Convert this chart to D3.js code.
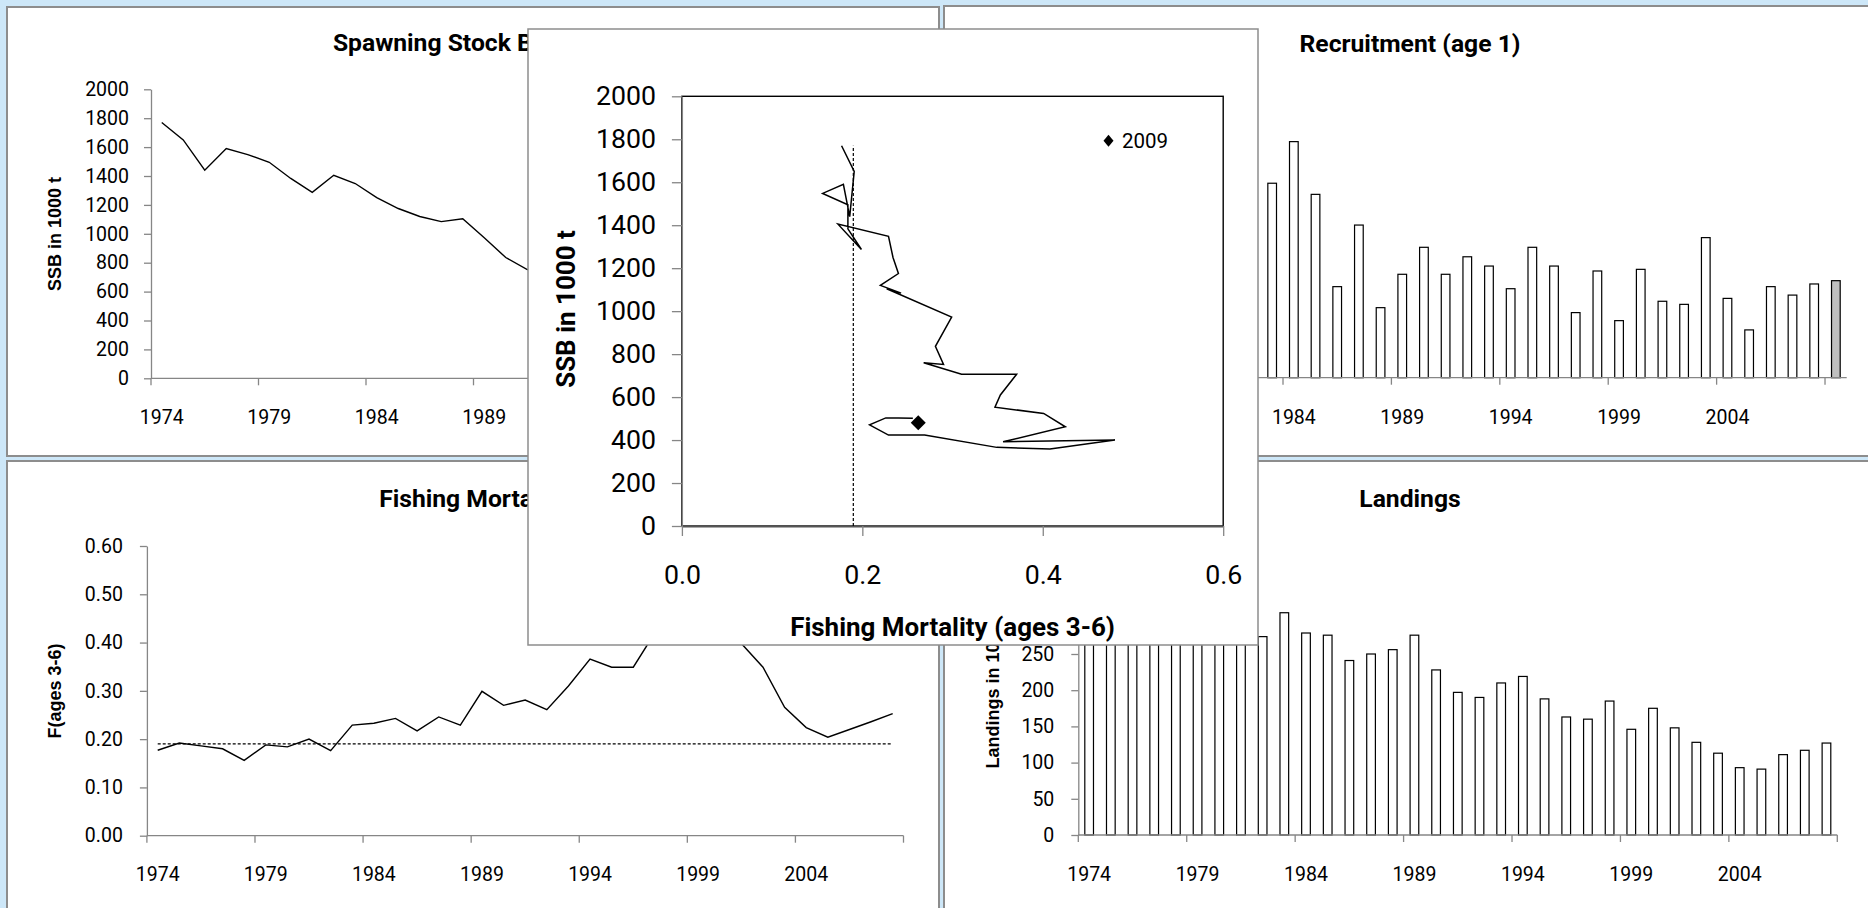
<!DOCTYPE html>
<html><head><meta charset="utf-8">
<script src="https://cdn.jsdelivr.net/npm/d3@7"></script>
<style>body{margin:0;background:#cde7f8;overflow:hidden}svg{display:block}</style>
</head><body>
<svg id="c" width="1868" height="908"></svg>
<script>
// ---------------- DATA ----------------
const years = [1974,1975,1976,1977,1978,1979,1980,1981,1982,1983,1984,1985,1986,1987,1988,1989,1990,1991,1992,1993,1994,1995,1996,1997,1998,1999,2000,2001,2002,2003,2004,2005,2006,2007,2008];
const ssb = [1770,1650,1440,1590,1548,1495,1383,1287,1405,1348,1250,1175,1120,1084,1104,972,836,752,760,706,706,610,553,524,462,392,400,358,366,423,423,471,503,503,501];
// F (ages 3-6) as drawn in the time-series panel
const fbar = [0.177,0.192,0.186,0.180,0.156,0.188,0.184,0.200,0.176,0.229,0.233,0.243,0.217,0.246,0.229,0.299,0.270,0.281,0.261,0.310,0.366,0.349,0.349,0.420,0.440,0.450,0.480,0.398,0.349,0.266,0.224,0.204,0.220,0.236,0.253];
// F (ages 3-6) as drawn in the SSB-F trajectory panel
const fTrajectory = [0.177,0.191,0.186,0.179,0.156,0.184,0.184,0.199,0.173,0.229,0.234,0.240,0.220,0.243,0.227,0.299,0.281,0.290,0.268,0.310,0.371,0.353,0.347,0.401,0.425,0.356,0.480,0.408,0.349,0.269,0.229,0.208,0.226,0.240,0.256];
const recYears = [1974,1975,1976,1977,1978,1979,1980,1981,1982,1983,1984,1985,1986,1987,1988,1989,1990,1991,1992,1993,1994,1995,1996,1997,1998,1999,2000,2001,2002,2003,2004,2005,2006,2007,2008,2009];
const recruitment = [820,1050,700,980,620,900,760,1100,880,944,1146,890,442,741,340,502,633,502,587,542,432,633,542,316,518,277,526,371,356,680,385,232,442,401,455,471];
const landings = [300,330,345,320,310,300,305,295,274,307,279,276,241,250,256,276,228,197,190,210,219,188,163,160,185,146,175,148,128,113,93,91,111,117,127];
const fpa = 0.19;
const fpaSsbRange = [0, 1770];
const point2009 = {year: 2009, f: 0.262, ssb: 481};
const yearLabels = ["1974","1979","1984","1989","1994","1999","2004"];
const ssbTicks = [0,200,400,600,800,1000,1200,1400,1600,1800,2000];
const fTicks = [0,0.1,0.2,0.3,0.4,0.5,0.6];
const recTicks = [0,200,400,600,800,1000,1200,1400];
const landTicks = [0,50,100,150,200,250,300,350,400];
const scatterFTicks = [0,0.2,0.4,0.6];

// ---------------- SETUP ----------------
const svg = d3.select('#c');
const FONT = 'Roboto, "Open Sans", sans-serif';
const AFONT = '"Liberation Sans", Arial, sans-serif';
const AX = '#868686';
svg.append('rect').attr('width',1868).attr('height',908).attr('fill','#cde7f8');

function fit(sel, target){
  const w = sel.node().getComputedTextLength();
  const fs = parseFloat(sel.attr('font-size'));
  const n = fs*target/w; sel.attr('font-size', n); return n;
}
function panel(x,y,w,h){
  svg.append('rect').attr('x',x).attr('y',y).attr('width',w).attr('height',h)
    .attr('fill','#fff').attr('stroke','#8d8d8d').attr('stroke-width',2);
}
function title(txt,cx,cy,size){
  return svg.append('text').attr('x',cx).attr('y',cy).attr('text-anchor','middle')
    .attr('dominant-baseline','central').attr('font-family',FONT).attr('font-weight','bold')
    .attr('font-size',size).attr('fill','#000').text(txt);
}
function yTitle(txt,cx,cy,size){
  return svg.append('text').attr('transform',`translate(${cx},${cy}) rotate(-90)`)
    .attr('text-anchor','middle').attr('dominant-baseline','central')
    .attr('font-family',AFONT).attr('font-weight','bold').attr('font-size',size).attr('fill','#000').text(txt);
}
function yAxis(scale,x,ticks,fmt,size,pad,tick){
  const g = svg.append('g').attr('transform',`translate(${x},0)`)
    .call(d3.axisLeft(scale).tickValues(ticks).tickFormat(fmt).tickSize(tick||7).tickPadding(pad).tickSizeOuter(0));
  g.select('.domain').attr('stroke',AX).attr('stroke-width',1.3);
  g.selectAll('.tick line').attr('stroke',AX).attr('stroke-width',1.3);
  g.selectAll('.tick text').attr('font-family',FONT).attr('font-size',size).attr('fill','#000');
  return g;
}
function catAxis(band,cats,y,labelY,size){
  const r = band.range(), bw = band.bandwidth();
  const g = svg.append('g');
  g.append('line').attr('x1',r[0]).attr('x2',r[1]).attr('y1',y).attr('y2',y).attr('stroke',AX).attr('stroke-width',1.3);
  const bounds = [];
  for(let i=0;i<=cats.length;i+=5) bounds.push(i<cats.length? band(cats[i]) : r[1]);
  g.selectAll('line.t').data(bounds).join('line').attr('class','t')
    .attr('x1',d=>d).attr('x2',d=>d).attr('y1',y).attr('y2',y+7).attr('stroke',AX).attr('stroke-width',1.3);
  g.selectAll('text').data(yearLabels).join('text')
    .attr('x',d=>band(+d)+bw/2).attr('y',labelY).attr('text-anchor','middle').attr('dominant-baseline','central')
    .attr('font-family',FONT).attr('font-size',size).attr('fill','#000').text(d=>d);
}

// ---------------- PANELS ----------------
panel(7,7,932,449);
panel(944,6,932,450);
panel(7,461,932,460);
panel(944,461,932,460);

const tRec = title('Recruitment (age 1)',1410,43,24);
const TS = fit(tRec,221);
title('Spawning Stock Biomass',473,42,TS);
title('Fishing Mortality',473,498,TS);
title('Landings',1410,498,TS);

const ty = yTitle('SSB in 1000 t',55,234,17);
const AS = fit(ty,114);
yTitle('F(ages 3-6)',55,691,AS);
yTitle('Landings in 1000 t',993,690,AS);

// ---------------- SSB time series ----------------
{
  const x = d3.scaleBand().domain(years).range([151,903.5]);
  const y = d3.scaleLinear().domain([0,2000]).range([378.3,89.3]);
  yAxis(y,151,ssbTicks,d3.format('d'),19.5,15);
  catAxis(x,years,378.3,417,19.5);
  svg.append('path').datum(years.map((yr,i)=>[yr,ssb[i]]))
    .attr('d',d3.line().x(d=>x(d[0])+x.bandwidth()/2).y(d=>y(d[1])))
    .attr('fill','none').attr('stroke','#000').attr('stroke-width',1.4);
}
// ---------------- Recruitment bars ----------------
{
  const x = d3.scaleBand().domain(recYears).range([1066.2,1846.7]);
  const y = d3.scaleLinear().domain([0,1400]).range([377.7,89.3]);
  const bw = x.bandwidth()/2.5;
  svg.append('g').selectAll('rect').data(recYears.map((yr,i)=>[yr,recruitment[i]])).join('rect')
    .attr('x',d=>x(d[0])+(x.bandwidth()-bw)/2).attr('width',bw)
    .attr('y',d=>y(d[1])).attr('height',d=>y(0)-y(d[1]))
    .attr('fill',d=>d[0]===2009?'#bfbfbf':'#fff').attr('stroke','#000').attr('stroke-width',1.2);
  // y axis lies under the overlay; its labels are not visible in the reference
  yAxis(y,1066.2,recTicks,()=>'',19.5,17);
  catAxis(x,recYears,377.7,417,19.5);
}
// ---------------- F time series ----------------
{
  const x = d3.scaleBand().domain(years).range([146.9,903.5]);
  const y = d3.scaleLinear().domain([0,0.6]).range([835.7,546]);
  yAxis(y,146.9,fTicks,d3.format('.2f'),19.5,17);
  catAxis(x,years,835.7,874,19.5);
  const c = x.bandwidth()/2;
  svg.append('line').attr('x1',x(years[0])+c).attr('x2',x(years[years.length-1])+c)
    .attr('y1',y(fpa)).attr('y2',y(fpa)).attr('stroke','#000').attr('stroke-width',1.2).attr('stroke-dasharray','3,2');
  svg.append('path').datum(years.map((yr,i)=>[yr,fbar[i]]))
    .attr('d',d3.line().x(d=>x(d[0])+c).y(d=>y(d[1])))
    .attr('fill','none').attr('stroke','#000').attr('stroke-width',1.4);
}
// ---------------- Landings bars ----------------
{
  const x = d3.scaleBand().domain(years).range([1078.3,1837.3]);
  const y = d3.scaleLinear().domain([0,400]).range([835,545.4]);
  const bw = x.bandwidth()/2.5;
  svg.append('g').selectAll('rect').data(years.map((yr,i)=>[yr,landings[i]])).join('rect')
    .attr('x',d=>x(d[0])+(x.bandwidth()-bw)/2).attr('width',bw)
    .attr('y',d=>y(d[1])).attr('height',d=>y(0)-y(d[1]))
    .attr('fill','#fff').attr('stroke','#000').attr('stroke-width',1.2);
  yAxis(y,1078.3,landTicks,d3.format('d'),19.5,17);
  catAxis(x,years,835,874,19.5);
}

// ---------------- Overlay: SSB vs F ----------------
{
  svg.append('rect').attr('x',528).attr('y',29).attr('width',730).attr('height',616)
    .attr('fill','#fff').attr('stroke','#8d8d8d').attr('stroke-width',1.5);
  const x = d3.scaleLinear().domain([0,0.6]).range([681.9,1223.2]);
  const y = d3.scaleLinear().domain([0,2000]).range([526,96.3]);
  svg.append('rect').attr('x',x(0)).attr('y',y(2000)).attr('width',x(0.6)-x(0)).attr('height',y(0)-y(2000))
    .attr('fill','none').attr('stroke','#000').attr('stroke-width',1.4);
  yAxis(y,x(0),ssbTicks,d3.format('d'),26.7,16,10);
  const gx = svg.append('g').attr('transform',`translate(0,${y(0)})`)
    .call(d3.axisBottom(x).tickValues(scatterFTicks).tickFormat(d3.format('.1f')).tickSize(10).tickPadding(29).tickSizeOuter(0));
  gx.select('.domain').attr('stroke','#555').attr('stroke-width',2);
  gx.selectAll('.tick line').attr('stroke',AX).attr('stroke-width',1.3);
  gx.selectAll('.tick text').attr('font-family',FONT).attr('font-size',26.7).attr('fill','#000')
    .attr('y',49).attr('dy',null).attr('dominant-baseline','central');
  svg.append('line').attr('x1',x(fpa)).attr('x2',x(fpa)).attr('y1',y(fpaSsbRange[0])).attr('y2',y(fpaSsbRange[1]))
    .attr('stroke','#000').attr('stroke-width',1.2).attr('stroke-dasharray','3,2');
  svg.append('path').datum(years.map((yr,i)=>[fTrajectory[i],ssb[i]]))
    .attr('d',d3.line().x(d=>x(d[0])).y(d=>y(d[1])))
    .attr('fill','none').attr('stroke','#000').attr('stroke-width',1.5).attr('stroke-linejoin','miter');
  const diamond = (hw,hh)=>`M0,${-hh}L${hw},0L0,${hh}L${-hw},0Z`;
  svg.append('path').attr('d',diamond(7.5,7.5)).attr('transform',`translate(${x(point2009.f)},${y(point2009.ssb)})`).attr('fill','#000');
  svg.append('path').attr('d',diamond(5,6)).attr('transform','translate(1108.5,140.8)').attr('fill','#000');
  svg.append('text').attr('x',1122).attr('y',141).attr('dominant-baseline','central')
    .attr('font-family',FONT).attr('font-size',20.5).attr('fill','#000').text(String(point2009.year));
  const xt = svg.append('text').attr('x',(x(0)+x(0.6))/2).attr('y',627).attr('text-anchor','middle').attr('dominant-baseline','central')
    .attr('font-family',FONT).attr('font-weight','bold').attr('font-size',24).attr('fill','#000').text('Fishing Mortality (ages 3-6)');
  const SS = fit(xt,325);
  svg.append('text').attr('transform',`translate(566,309) rotate(-90)`).attr('text-anchor','middle').attr('dominant-baseline','central')
    .attr('font-family',FONT).attr('font-weight','bold').attr('font-size',SS).attr('fill','#000').text('SSB in 1000 t');
}
</script>
</body></html>
